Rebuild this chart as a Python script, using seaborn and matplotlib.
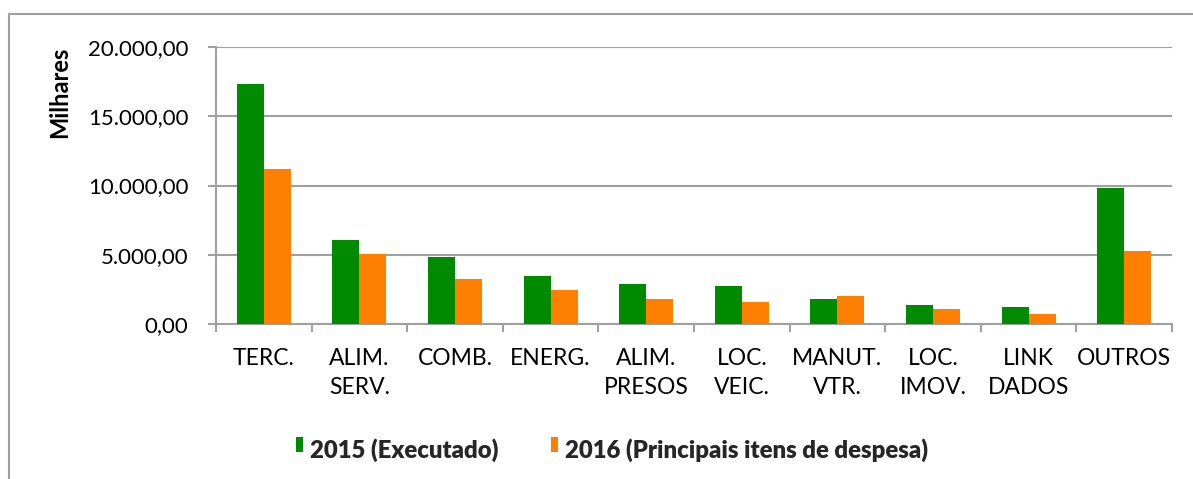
import matplotlib
matplotlib.use("Agg")
import matplotlib.pyplot as plt
import matplotlib.ticker as mticker
from matplotlib import font_manager
from matplotlib.lines import Line2D
from matplotlib.patches import Patch, Rectangle
from matplotlib.legend_handler import HandlerPatch
import seaborn as sns
import pandas as pd
import numpy as np

# Chart data (valores em milhares)
categorias = ["TERC.", "ALIM.\nSERV.", "COMB.", "ENERG.", "ALIM.\nPRESOS",
              "LOC.\nVEIC.", "MANUT.\nVTR.", "LOC.\nIMOV.", "LINK\nDADOS", "OUTROS"]
exec_2015 = [17350, 6050, 4870, 3450, 2890, 2730, 1810, 1375, 1210, 9830]
desp_2016 = [11200, 5060, 3230, 2440, 1810, 1590, 2025, 1105, 725, 5280]
series = ["2015 (Executado)", "2016 (Principais itens de despesa)"]
cores = ["#008a00", "#ff8000"]

df = pd.DataFrame({
    "cat": categorias * 2,
    "valor": exec_2015 + desp_2016,
    "serie": [series[0]] * len(categorias) + [series[1]] * len(categorias),
})

# bold font: Lato if it really has a bold face, else Open Sans
fonts = font_manager.fontManager.ttflist
lato_bold = any(f.name == "Lato" and f.weight in (700, "bold") for f in fonts)
bold_family = ["Lato", "DejaVu Sans"] if lato_bold else ["Open Sans", "DejaVu Sans"]

sns.set_style("white")
plt.rcParams["font.family"] = ["Lato", "DejaVu Sans"]

fig = plt.figure(figsize=(11.93, 4.79), dpi=100)
ax = fig.add_axes([216 / 1193, 1 - 324 / 479, (1172 - 216) / 1193, (324 - 47) / 479])

sns.barplot(data=df, x="cat", y="valor", hue="serie", palette=cores,
            width=0.565, ax=ax, saturation=1, legend=False, zorder=3,
            edgecolor="none")

ax.set_ylim(0, 20000)
ax.set_xlim(-0.5, len(categorias) - 0.5)
ax.yaxis.set_major_locator(mticker.MultipleLocator(5000))
ax.yaxis.set_major_formatter(mticker.FuncFormatter(
    lambda v, p: f"{v:,.2f}".replace(",", "X").replace(".", ",").replace("X", ".")))
ax.grid(axis="y", color="#a0a0a0", linewidth=1.5, zorder=0)

for s in ["top", "right"]:
    ax.spines[s].set_visible(False)
for s in ["left", "bottom"]:
    ax.spines[s].set_color("#a0a0a0")
    ax.spines[s].set_linewidth(1.5)

ax.tick_params(axis="y", which="major", length=6, width=1.5, color="#a0a0a0",
               direction="out", labelsize=16, pad=14, left=True, labelcolor="black")
ax.set_xticks(np.arange(-0.5, len(categorias) + 0.5, 1), minor=True)
ax.tick_params(axis="x", which="minor", length=6, width=1.5, color="#a0a0a0",
               direction="out", bottom=True)
ax.tick_params(axis="x", which="major", length=0, pad=17)
ax.set_xticklabels(categorias, fontsize=16.5, linespacing=1.5, va="top", color="black")

ax.set_xlabel("")
ax.set_ylabel("Milhares", fontsize=17, fontweight="bold", color="black",
              family=bold_family)
ax.yaxis.set_label_coords(-0.152, 0.835)


# legend squares sit a bit higher than the text, like in the original
def raised_square(legend, orig_handle, xdescent, ydescent, width, height, fontsize):
    return Rectangle((-xdescent, -ydescent + 3.5), width, height)


handles = [Patch(facecolor=c, edgecolor="none") for c in cores]
fig.legend(handles, series, loc="center", bbox_to_anchor=(612 / 1193, 1 - 450 / 479),
           ncol=2, frameon=False, handlelength=0.3, handleheight=0.55,
           handletextpad=0.3, columnspacing=2.2,
           handler_map={Patch: HandlerPatch(patch_func=raised_square)},
           prop={"family": bold_family, "weight": "heavy", "size": 17.2})

# Outer chart border (top and left visible)
fig.add_artist(Line2D([8.5 / 1193, 1], [1 - 13.5 / 479, 1 - 13.5 / 479],
                      color="#a0a0a0", linewidth=1.5, transform=fig.transFigure))
fig.add_artist(Line2D([8.5 / 1193, 8.5 / 1193], [0, 1 - 13.5 / 479],
                      color="#a0a0a0", linewidth=1.5, transform=fig.transFigure))

fig.savefig("out.png", dpi=100)
